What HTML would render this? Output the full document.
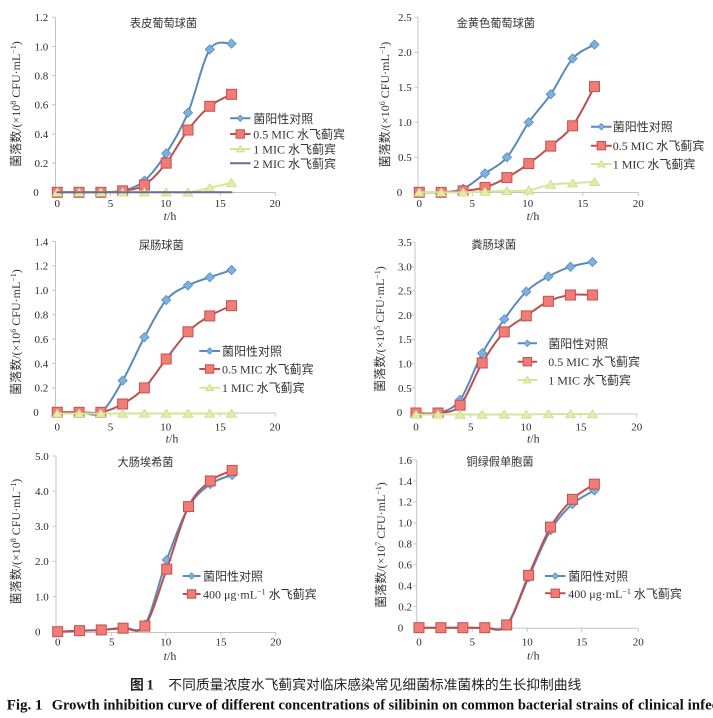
<!DOCTYPE html>
<html><head><meta charset="utf-8"><style>
html,body{margin:0;padding:0;background:#fff;}
svg{display:block;}
.t{font-family:"Liberation Serif","Noto Sans CJK SC",serif;font-size:11px;fill:#2a2a2a;}
.tm{font-family:"Liberation Serif","Noto Sans CJK SC",serif;font-size:11px;fill:#2a2a2a;text-anchor:middle;}
.ti{font-family:"Liberation Sans","Noto Sans CJK SC",sans-serif;font-size:11.2px;fill:#333;text-anchor:middle;}
.lg{font-family:"Liberation Serif","Noto Sans CJK SC",serif;font-size:12px;fill:#333;}
.yl{font-family:"Liberation Serif","Noto Sans CJK SC",serif;font-size:12px;fill:#333;text-anchor:middle;}
.xl{font-family:"Liberation Serif",serif;font-size:12px;fill:#333;text-anchor:middle;}
</style></head><body>
<svg id="c" xmlns="http://www.w3.org/2000/svg" width="713" height="718" viewBox="0 0 713 718">
<rect width="713" height="718" fill="#fff"/>
<g id="ax"></g>
<g id="se"></g>

<!-- Panel 1 -->
<text class="ti" x="163.5" y="27">表皮葡萄球菌</text>
<text class="t" x="33.3" y="196.1">0</text>
<text class="t" x="34.5" y="166.9">0.2</text>
<text class="t" x="34.5" y="137.8">0.4</text>
<text class="t" x="34.5" y="108.6">0.6</text>
<text class="t" x="34.5" y="79.5">0.8</text>
<text class="t" x="34.5" y="50.3">1.0</text>
<text class="t" x="34.5" y="21.1">1.2</text>
<text class="tm" x="57.3" y="206.8">0</text>
<text class="tm" x="110.5" y="206.8">5</text>
<text class="tm" x="165.7" y="206.8">10</text>
<text class="tm" x="220.3" y="206.8">15</text>
<text class="tm" x="275" y="206.8">20</text>
<text class="xl" x="170" y="220"><tspan font-style="italic">t</tspan>/h</text>
<text class="yl" transform="translate(20,104) rotate(-90)">菌落数/(×10<tspan baseline-shift="super" font-size="8">8</tspan> CFU·mL<tspan baseline-shift="super" font-size="8">−1</tspan>)</text>
<text class="lg" x="253.3" y="122.8">菌阳性对照</text>
<text class="lg" x="253.3" y="138.5">0.5 MIC 水飞蓟宾</text>
<text class="lg" x="253.3" y="153.5">1 MIC 水飞蓟宾</text>
<text class="lg" x="253.3" y="167.8">2 MIC 水飞蓟宾</text>

<!-- Panel 2 -->
<text class="ti" x="495.8" y="27">金黄色葡萄球菌</text>
<text class="t" x="396.7" y="196.1">0</text>
<text class="t" x="398" y="161.1">0.5</text>
<text class="t" x="398" y="126.1">1.0</text>
<text class="t" x="398" y="91.1">1.5</text>
<text class="t" x="398" y="56.1">2.0</text>
<text class="t" x="398" y="21.1">2.5</text>
<text class="tm" x="419.3" y="206.8">0</text>
<text class="tm" x="472.3" y="206.8">5</text>
<text class="tm" x="527.7" y="206.8">10</text>
<text class="tm" x="582.7" y="206.8">15</text>
<text class="tm" x="638.3" y="206.8">20</text>
<text class="xl" x="533" y="220"><tspan font-style="italic">t</tspan>/h</text>
<text class="yl" transform="translate(389,104.5) rotate(-90)">菌落数/(×10<tspan baseline-shift="super" font-size="8">6</tspan> CFU·mL<tspan baseline-shift="super" font-size="8">−1</tspan>)</text>
<text class="lg" x="612.7" y="131.2">菌阳性对照</text>
<text class="lg" x="612.7" y="150.2">0.5 MIC 水飞蓟宾</text>
<text class="lg" x="612.7" y="168.5">1 MIC 水飞蓟宾</text>

<!-- Panel 3 -->
<text class="ti" x="161.3" y="249">屎肠球菌</text>
<text class="t" x="33.3" y="416.1">0</text>
<text class="t" x="34.5" y="391.7">0.2</text>
<text class="t" x="34.5" y="367.3">0.4</text>
<text class="t" x="34.5" y="342.9">0.6</text>
<text class="t" x="34.5" y="318.5">0.8</text>
<text class="t" x="34.5" y="294.1">1.0</text>
<text class="t" x="34.5" y="269.7">1.2</text>
<text class="t" x="34.5" y="245.3">1.4</text>
<text class="tm" x="57.3" y="430.7">0</text>
<text class="tm" x="110.5" y="430.7">5</text>
<text class="tm" x="165.7" y="430.7">10</text>
<text class="tm" x="220.3" y="430.7">15</text>
<text class="tm" x="275" y="430.7">20</text>
<text class="xl" x="172" y="442.5"><tspan font-style="italic">t</tspan>/h</text>
<text class="yl" transform="translate(20,332) rotate(-90)">菌落数/(×10<tspan baseline-shift="super" font-size="8">6</tspan> CFU·mL<tspan baseline-shift="super" font-size="8">−1</tspan>)</text>
<text class="lg" x="222" y="355.5">菌阳性对照</text>
<text class="lg" x="222" y="373.5">0.5 MIC 水飞蓟宾</text>
<text class="lg" x="222" y="392.2">1 MIC 水飞蓟宾</text>

<!-- Panel 4 -->
<text class="ti" x="493.8" y="248.3">粪肠球菌</text>
<text class="t" x="396.7" y="416.1">0</text>
<text class="t" x="398" y="391.8">0.5</text>
<text class="t" x="398" y="367.5">1.0</text>
<text class="t" x="398" y="343.2">1.5</text>
<text class="t" x="398" y="318.9">2.0</text>
<text class="t" x="398" y="294.7">2.5</text>
<text class="t" x="398" y="270.4">3.0</text>
<text class="t" x="398" y="246.1">3.5</text>
<text class="tm" x="416" y="430.7">0</text>
<text class="tm" x="470.7" y="430.7">5</text>
<text class="tm" x="526" y="430.7">10</text>
<text class="tm" x="581" y="430.7">15</text>
<text class="tm" x="636.7" y="430.7">20</text>
<text class="xl" x="533.3" y="442.5"><tspan font-style="italic">t</tspan>/h</text>
<text class="yl" transform="translate(384,329) rotate(-90)">菌落数/(×10<tspan baseline-shift="super" font-size="8">5</tspan> CFU·mL<tspan baseline-shift="super" font-size="8">−1</tspan>)</text>
<text class="lg" x="548.3" y="347.8">菌阳性对照</text>
<text class="lg" x="548.3" y="366.2">0.5 MIC 水飞蓟宾</text>
<text class="lg" x="548.3" y="384.5">1 MIC 水飞蓟宾</text>

<!-- Panel 5 -->
<text class="ti" x="145.5" y="466">大肠埃希菌</text>
<text class="t" x="35" y="635.5">0</text>
<text class="t" x="35" y="600.4">1.0</text>
<text class="t" x="35" y="565.2">2.0</text>
<text class="t" x="35" y="530.1">3.0</text>
<text class="t" x="35" y="494.9">4.0</text>
<text class="t" x="35" y="459.8">5.0</text>
<text class="tm" x="57.7" y="645.5">0</text>
<text class="tm" x="111.7" y="645.5">5</text>
<text class="tm" x="165.7" y="645.5">10</text>
<text class="tm" x="221" y="645.5">15</text>
<text class="tm" x="275.7" y="645.5">20</text>
<text class="xl" x="170" y="660"><tspan font-style="italic">t</tspan>/h</text>
<text class="yl" transform="translate(20,541.5) rotate(-90)">菌落数/(×10<tspan baseline-shift="super" font-size="8">8</tspan> CFU·mL<tspan baseline-shift="super" font-size="8">−1</tspan>)</text>
<text class="lg" x="203" y="580.5">菌阳性对照</text>
<text class="lg" x="203" y="598.5">400 μg·mL<tspan baseline-shift="super" font-size="8">−1</tspan> 水飞蓟宾</text>

<!-- Panel 6 -->
<text class="ti" x="500" y="465.7">铜绿假单胞菌</text>
<text class="t" x="397.7" y="631.5">0</text>
<text class="t" x="398.3" y="610.5">0.2</text>
<text class="t" x="398.3" y="589.6">0.4</text>
<text class="t" x="398.3" y="568.6">0.6</text>
<text class="t" x="398.3" y="547.7">0.8</text>
<text class="t" x="398.3" y="526.7">1.0</text>
<text class="t" x="398.3" y="505.7">1.2</text>
<text class="t" x="398.3" y="484.8">1.4</text>
<text class="t" x="398.3" y="463.8">1.6</text>
<text class="tm" x="419" y="645.5">0</text>
<text class="tm" x="472.3" y="645.5">5</text>
<text class="tm" x="527.3" y="645.5">10</text>
<text class="tm" x="581.7" y="645.5">15</text>
<text class="tm" x="638.3" y="645.5">20</text>
<text class="xl" x="533.3" y="659.5"><tspan font-style="italic">t</tspan>/h</text>
<text class="yl" transform="translate(385,545) rotate(-90)">菌落数/(×10<tspan baseline-shift="super" font-size="8">7</tspan> CFU·mL<tspan baseline-shift="super" font-size="8">−1</tspan>)</text>
<text class="lg" x="568.3" y="580.5">菌阳性对照</text>
<text class="lg" x="568.3" y="597.8">400 μg·mL<tspan baseline-shift="super" font-size="8">−1</tspan> 水飞蓟宾</text>

<!-- Caption -->
<text x="130" y="689.5" font-family="Noto Sans CJK SC, sans-serif" font-size="13.8" font-weight="bold" fill="#222">图</text>
<text x="146.5" y="689.5" font-family="Liberation Serif, serif" font-size="14.5" font-weight="bold" fill="#222">1</text>
<text x="168.3" y="689.5" font-family="Liberation Sans, Noto Sans CJK SC, sans-serif" font-size="13.8" fill="#222" textLength="413" lengthAdjust="spacingAndGlyphs">不同质量浓度水飞蓟宾对临床感染常见细菌标准菌株的生长抑制曲线</text>
<text x="6.7" y="709.3" font-family="Liberation Serif, serif" font-size="15" font-weight="bold" fill="#111">Fig. 1</text>
<text x="51.7" y="709.3" font-family="Liberation Serif, serif" font-size="15" font-weight="bold" fill="#111" textLength="582" lengthAdjust="spacingAndGlyphs">Growth inhibition curve of different concentrations of silibinin on common bacterial strains of</text>
<text x="638" y="709.3" font-family="Liberation Serif, serif" font-size="15" font-weight="bold" fill="#111">clinical infection</text>
</svg>
<script>
(function(){
var NS='http://www.w3.org/2000/svg';
var AX=document.getElementById('ax'),SE=document.getElementById('se');
function el(p,tag,a){var e=document.createElementNS(NS,tag);for(var k in a)e.setAttribute(k,a[k]);p.appendChild(e);return e;}
var ST={
 b:{line:'#5a89bb',fill:'#7cb1e2',stroke:'#5a8cc0'},
 r:{line:'#b9524e',fill:'#f07b77',stroke:'#c4524e'},
 g:{line:'#d6e59b',fill:'#e2eda6',stroke:'#cbdb8c'},
 p:{line:'#6d6a94'}
};
function sp(pts){var d='M'+pts[0][0].toFixed(2)+','+pts[0][1].toFixed(2);
 for(var i=0;i<pts.length-1;i++){var p0=pts[i-1]||pts[i],p1=pts[i],p2=pts[i+1],p3=pts[i+2]||p2;
  var c1x=p1[0]+(p2[0]-p0[0])/6,c1y=p1[1]+(p2[1]-p0[1])/6,c2x=p2[0]-(p3[0]-p1[0])/6,c2y=p2[1]-(p3[1]-p1[1])/6;
  d+=' C'+c1x.toFixed(2)+','+c1y.toFixed(2)+' '+c2x.toFixed(2)+','+c2y.toFixed(2)+' '+p2[0].toFixed(2)+','+p2[1].toFixed(2);}
 return d;}
function mk(t,x,y,s){var c=ST[t];
 if(t==='b'){el(SE,'polygon',{points:x+','+(y-s)+' '+(x+s)+','+y+' '+x+','+(y+s)+' '+(x-s)+','+y,fill:c.fill,stroke:c.stroke,'stroke-width':0.8});}
 else if(t==='r'){el(SE,'rect',{x:x-s,y:y-s,width:2*s,height:2*s,fill:c.fill,stroke:c.stroke,'stroke-width':1});}
 else if(t==='g'){el(SE,'polygon',{points:x+','+(y-s*0.85)+' '+(x+s)+','+(y+s*0.75)+' '+(x-s)+','+(y+s*0.75),fill:c.fill,stroke:c.stroke,'stroke-width':0.8});}
}
var MS={b:4.6,r:5,g:5};
var LS={b:3.2,r:4.2,g:4};
var P=[
 {ox:57.3,sx:10.89,oy:192.3,sy:145.8,ax:55.5,axy:192.5,top:17.3,xe:275.5,
  yt:[192.3,163.1,134,104.8,75.7,46.5,17.3],xt:[55.5,110.5,165.7,220.3,275.3],
  s:[['b',[0,0,0,0.01,0.08,0.267,0.546,0.98,1.02]],['r',[0,0,0,0.01,0.05,0.2,0.427,0.59,0.672]],['g',[0,0,0,0,0,0,0,0.03,0.066]],['p',[0,0,0,0,0,0,0,0,0]]],
  lg:{x1:230,x2:250.5,r:[118.3,134,149,163.3],t:['b','r','g','p']}},
 {ox:419.3,sx:10.95,oy:192.3,sy:70,ax:418,axy:192.5,top:17.3,xe:638.5,
  yt:[192.3,157.3,122.3,87.3,52.3,17.3],xt:[418,472.3,527.7,582.7,638.3],
  s:[['b',[0,0,0.05,0.27,0.5,1.0,1.4,1.91,2.11]],['r',[0,0,0.02,0.07,0.21,0.41,0.66,0.95,1.51]],['g',[0,0,0,0.01,0.02,0.03,0.11,0.13,0.15]]],
  lg:{x1:591,x2:611.7,r:[126.7,145.7,164],t:['b','r','g']}},
 {ox:57.3,sx:10.89,oy:412.3,sy:122,ax:55.5,axy:413,top:241.5,xe:275.5,
  yt:[412.3,387.9,363.5,339.1,314.7,290.3,265.9,241.5],xt:[55.5,110.5,165.7,220.3,275.3],
  s:[['b',[0,0,0,0.26,0.615,0.92,1.04,1.107,1.166]],['r',[0,0,0,0.068,0.2,0.437,0.66,0.79,0.874]],['g',[-0.01,-0.01,-0.01,-0.01,-0.01,-0.01,-0.01,-0.01,-0.01]]],
  lg:{x1:199.3,x2:220,r:[351,369,387.7],t:['b','r','g']}},
 {ox:416,sx:11.03,oy:413,sy:48.57,ax:415,axy:414,top:242.3,xe:637,
  yt:[412.3,388,363.7,339.4,315.1,290.9,266.6,242.3],xt:[415,470.7,526,581,636.7],
  s:[['b',[0,0,0.27,1.23,1.93,2.5,2.81,3.01,3.11]],['r',[0,0,0.16,1.03,1.67,2.0,2.3,2.43,2.43]],['g',[-0.03,-0.03,-0.03,-0.03,-0.03,-0.03,-0.02,-0.02,-0.02]]],
  lg:{x1:517.7,x2:537,r:[343.3,361.7,380],t:['b','r','g']}},
 {ox:57.7,sx:10.9,oy:631.7,sy:35.14,ax:56,axy:632.5,top:456,xe:276,
  yt:[631.7,596.6,561.4,526.3,491.1,456],xt:[56,111.7,165.7,221,275.7],
  s:[['b',[0,0.02,0.05,0.12,0.2,2.04,3.54,4.2,4.46]],['r',[0,0.03,0.05,0.1,0.16,1.78,3.56,4.29,4.59]]],
  lg:{x1:182.7,x2:200.5,r:[576,594],t:['b','r']}},
 {ox:419,sx:10.96,oy:627.7,sy:104.8,ax:416.7,axy:628.3,top:460,xe:638.5,
  yt:[627.7,606.7,585.8,564.8,543.9,522.9,501.9,481,460],xt:[416.7,472.3,527.3,581.7,638.3],
  s:[['b',[0,0,0,0,0.02,0.48,0.93,1.18,1.31]],['r',[0,0,0,0,0.026,0.5,0.96,1.225,1.37]]],
  lg:{x1:545,x2:565.5,r:[576,593.3],t:['b','r']}}
];
P.forEach(function(p){
 var ac='#c4c4c4';
 el(AX,'line',{x1:p.ax,y1:p.top,x2:p.ax,y2:p.axy,stroke:ac,'stroke-width':1});
 el(AX,'line',{x1:p.ax,y1:p.axy,x2:p.xe,y2:p.axy,stroke:ac,'stroke-width':1});
 p.yt.forEach(function(y){el(AX,'line',{x1:p.ax-3.5,y1:y,x2:p.ax,y2:y,stroke:ac,'stroke-width':1});});
 p.xt.forEach(function(x){el(AX,'line',{x1:x,y1:p.axy,x2:x,y2:p.axy+3.5,stroke:ac,'stroke-width':1});});
 p.s.forEach(function(s){
  var t=s[0],pts=s[1].map(function(v,i){return [p.ox+p.sx*2*i,p.oy-v*p.sy];});
  el(SE,'path',{d:sp(pts),fill:'none',stroke:ST[t].line,'stroke-width':2,'stroke-linejoin':'round','stroke-linecap':'round'});
  if(t!=='p')pts.forEach(function(q){mk(t,q[0],q[1],MS[t]);});
 });
 p.lg.t.forEach(function(t,i){var y=p.lg.r[i];
  el(SE,'line',{x1:p.lg.x1,y1:y,x2:p.lg.x2,y2:y,stroke:ST[t].line,'stroke-width':2});
  if(t!=='p')mk(t,(p.lg.x1+p.lg.x2)/2,y,LS[t]);
 });
});
})();
</script>
</body></html>
